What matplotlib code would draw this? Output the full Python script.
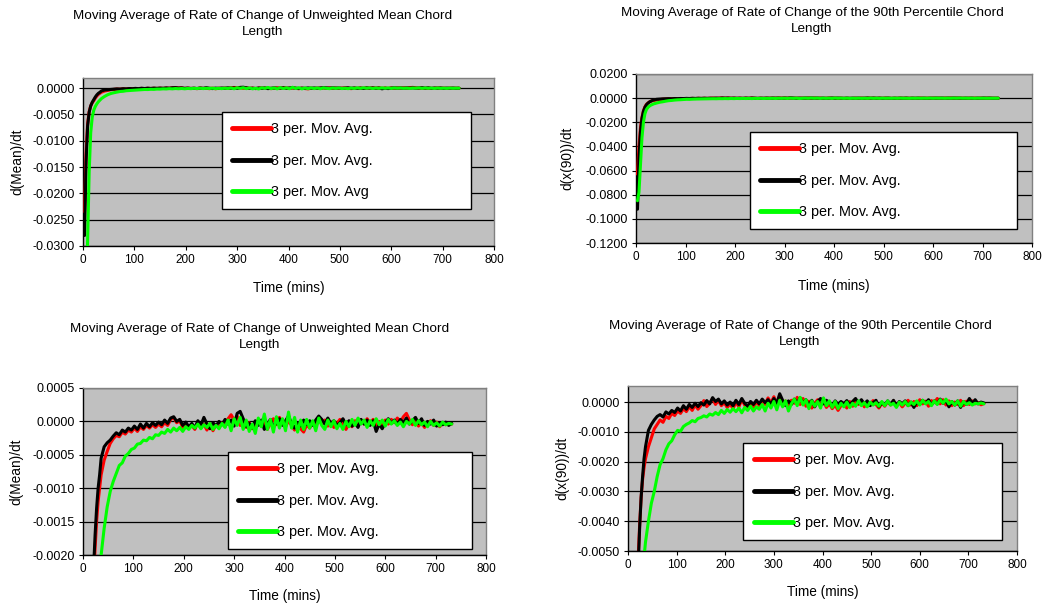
import matplotlib
matplotlib.use("Agg")
import matplotlib.pyplot as plt
import numpy as np

plt.rcParams['font.family'] = ['Liberation Sans', 'DejaVu Sans']

# ---------------- data ----------------
time_min = [
    3, 6, 9, 12, 15, 18, 21, 24, 27, 30,
    33, 36, 42, 48, 54, 60, 66, 72, 78, 84,
    90, 96, 102, 108, 114, 120, 126, 132, 138, 144,
    150, 156, 162, 168, 174, 180, 186, 192, 198, 204,
    210, 216, 222, 228, 234, 240, 246, 252, 258, 264,
    270, 276, 282, 288, 294, 300, 306, 312, 318, 324,
    330, 336, 342, 348, 354, 360, 366, 372, 378, 384,
    390, 396, 402, 408, 414, 420, 426, 432, 438, 444,
    450, 456, 462, 468, 474, 480, 486, 492, 498, 504,
    510, 516, 522, 528, 534, 540, 546, 552, 558, 564,
    570, 576, 582, 588, 594, 600, 606, 612, 618, 624,
    630, 636, 642, 648, 654, 660, 666, 672, 678, 684,
    690, 696, 702, 708, 714, 720, 726, 732,
]

mean_red = [
    -0.0235, -0.0125, -0.0068, -0.0045, -0.0034, -0.0028, -0.0024, -0.0019, -0.0015, -0.0012,
    -0.0010, -0.0008, -0.00058, -0.00045, -0.00033, -0.00026, -0.00021, -0.00023, -0.00016, -0.00019,
    -0.00013, -0.00016, -0.0001, -0.00015, -0.00008, -0.00012, -0.00006, -0.0001, -0.00005, -0.00009,
    -0.00004, -0.00008, -0.00002, -0.00006, 0.00003, 0.00006, -0.00002, 0.00001, -0.00009, -0.00003,
    -0.0001, -0.00006, -0.00012, -0.00002, -0.00009, -0.00004, -0.00013, -0.00003, -0.00014, -0.00005,
    -0.0001, -0.00002, -0.00008, 0.00004, 0.0001, 0.00002, 0.00008, -0.00006, 0.00003, -0.00009,
    -0.00002, -0.00011, -0.00004, 0.00002, -0.00007, -0.00001, -0.00012, -0.00003, 0.00004, -0.00005,
    0.00006, -0.00002, -0.00008, 0.00001, -0.00006, -0.00013, -0.00004, -0.00011, -0.00016, -0.00005,
    -0.0001, -0.00002, -0.00008, 0.00003, -0.00004, 0.00002, -0.00007, -0.00001, -0.00009, -0.00003,
    0.00003, -0.00005, -0.00012, -0.00003, -0.00008, 0.00001, -0.00006, 0.00002, -0.00004, 0.00004,
    -0.00003, 0.00003, -0.00005, 0.0, -0.00007, 0.00002, -0.00004, 0.00003, -0.00002, 0.00005,
    -0.00001, 0.00007, 0.00012, 0.00002, -0.00005, 0.00001, -0.00007, -0.00002, -0.00009, -0.00003,
    0.00001, -0.00006, -0.00001, -0.00008, -0.00002, -0.00005, -0.00003, -0.00004,
]

mean_black = [
    -0.0280, -0.0140, -0.0072, -0.0046, -0.0034, -0.0027, -0.0022, -0.0017, -0.0013, -0.0010,
    -0.0008, -0.00055, -0.00038, -0.00032, -0.00028, -0.00022, -0.00017, -0.0002, -0.00013, -0.00016,
    -0.0001, -0.00013, -0.00007, -0.00012, -0.00004, -0.0001, -0.00003, -0.00008, -0.00002, -0.00006,
    -0.00001, -0.00005, 0.00002, -0.00003, 0.00005, 0.00007, 0.0, 0.00003, -0.00006, -0.00001,
    -0.00008, -0.00003, -0.0001, 0.00001, -0.00006, 0.00006, -0.00004, -0.00011, -0.00002, -0.00007,
    0.0, -0.00005, 0.00003, -0.00004, 0.00002, -0.00007, 0.00012, 0.00015, 0.00004, -0.00008,
    -0.00003, -0.0001, 0.00001, -0.00006, 0.00002, -0.00012, -0.00004, 0.00003, -0.00008, -0.00002,
    0.00004, -0.00006, 0.00001, 0.00008, -0.00003, -0.0001, -0.00002, -0.00007, 0.00002, -0.00005,
    0.00001, -0.00006, 0.00002, 0.00008, 0.00003, -0.00004, 0.00005, -0.00003, 0.00001, -0.00006,
    -0.00002, 0.00004, -0.00005, 0.00001, -0.00007, -0.00002, -0.00009, 0.00003, -0.00004, 0.00002,
    -0.00006, 0.00001, -0.00015, -0.00004, -0.00011, -0.00002, 0.00004, -0.00003, 0.00002, -0.00005,
    0.00003, -0.00002, 0.00005, -0.00004, 0.00001, 0.00006, -0.00003, 0.00004, -0.00006, 0.0,
    -0.00004, 0.00002, -0.00007, -0.00002, -0.00005, -0.00001, -0.00006, -0.00003,
]

mean_green = [
    -0.0550, -0.0400, -0.0290, -0.0160, -0.0085, -0.0055, -0.0042, -0.0035, -0.0030, -0.0026,
    -0.0023, -0.0020, -0.0016, -0.00128, -0.00105, -0.0009, -0.00078, -0.00066, -0.00062, -0.00052,
    -0.00048, -0.00042, -0.0004, -0.00034, -0.00033, -0.00028, -0.00029, -0.00024, -0.00026, -0.0002,
    -0.00021, -0.00016, -0.00018, -0.00012, -0.00016, -0.0001, -0.00014, -0.00009, -0.00015, -0.00008,
    -0.00012, -0.00006, -0.0001, -0.00004, -0.00011, -0.00005, -0.00009, -0.00003, -0.00012, -0.00006,
    -0.00011, -0.00003, -0.00009, 0.00002, -0.00014, 0.00004, -0.00006, 0.00006, -0.00012, 0.00002,
    -0.00015, -0.00004, -0.00018, 0.00005, -0.00008, 0.00011, -0.00012, 0.00003, -0.00016, 0.00007,
    -0.0001, 0.00004, -0.00014, 0.00014, -0.0001, 0.00006, -0.00016, 0.00002, -0.00012, 0.00003,
    -0.0001, 0.00001, -0.00014, 0.00005, -0.00006, -0.00012, 0.00002, -0.00008, 0.00001, -0.00011,
    -0.00003, -0.00012, 0.0, -0.00008, 0.00003, -0.00006, 0.00005, -0.00004, 0.00002, -0.00009,
    0.00001, -0.00006, 0.00004, -0.00005, 0.00002, -0.00007, 0.00003, -0.00004, 0.00001, -0.00006,
    -0.00001, -0.00008, 0.0, -0.00004, 0.00003, -0.00006, 0.00001, -0.00005, -0.00001, -0.00008,
    0.0, -0.00006, -0.00002, -0.00007, -0.00001, -0.00005, -0.00003, -0.00004,
]

p90_red = [
    -0.063, -0.040, -0.025, -0.016, -0.0105, -0.0072, -0.0052, -0.0041, -0.0032, -0.0026,
    -0.0022, -0.0019, -0.0015, -0.0012, -0.0009, -0.00075, -0.0006, -0.00068, -0.00048, -0.00055,
    -0.00038, -0.00045, -0.0003, -0.00038, -0.00022, -0.00032, -0.00015, -0.00028, -0.0001, -0.00024,
    -0.00012, 0.00005, -0.00015, -0.00004, 0.00012, -0.00008, 0.00006, -0.00012, -0.00002, -0.00018,
    -0.00006, -0.00022, 0.0, -0.00016, 0.00008, -0.0001, -0.00025, -0.00005, -0.00018, 0.00002,
    -0.00012, 0.00005, -0.00008, 0.00014, -0.00003, 0.00018, -0.00006, 0.00012, -0.0001, 0.00004,
    -0.00015, 0.00006, -0.00004, 0.00016, -0.00008, 0.00012, -0.00014, 0.00003, -0.0002, -0.00004,
    0.00008, -0.00012, 0.00004, -0.00018, -0.00006, -0.00022, -0.0001, -0.00028, -0.00012, -0.00004,
    -0.0002, 0.00002, -0.00014, 0.00006, -0.00008, 0.00004, -0.00016, -0.00002, -0.0001, 0.00005,
    -0.00008, -0.0002, -0.00004, -0.00014, 0.00002, -0.0001, 0.00004, -0.00012, -0.00002, -0.00016,
    -0.00004, 0.00006, -0.0001, 0.00002, -0.00012, 0.00008, -0.00006, 0.00003, -0.00014, 0.00005,
    -0.00002, 0.00012, -0.00006, 0.00008, -0.0001, 0.00004, -0.00012, 0.0, -0.00008, 0.00006,
    -0.00012, 0.00003, -0.00008, 0.00004, -0.00006, -0.00002, -0.00009, -0.00005,
]

p90_black = [
    -0.092, -0.050, -0.028, -0.017, -0.011, -0.0076, -0.0055, -0.0042, -0.0032, -0.0025,
    -0.0019, -0.0015, -0.00095, -0.00075, -0.0006, -0.00048, -0.00042, -0.0005, -0.00033, -0.0004,
    -0.00028, -0.00035, -0.0002, -0.0003, -0.00012, -0.00024, -0.00008, -0.00018, -0.00004, -0.00015,
    -0.00002, -0.0001, 0.00005, -0.00006, 0.00015, 0.00002, 0.0001, -0.00006, 0.00004, -0.0001,
    0.0, -0.00012, 0.00006, -0.00008, 0.00012, -0.00004, -0.00014, 0.00002, -0.00008, 0.00006,
    -0.00006, 0.0001, -0.00002, 0.00008, -0.00008, 0.00012, -0.00004, 0.00028, 0.00006, -0.00012,
    0.00004, -0.00008, 0.0001, -0.00004, 0.00014, -0.00006, 0.00008, -0.00012, 0.00006, -0.00016,
    0.00002, 0.00012, -0.00006, 0.00006, -0.00002, -0.00012, 0.00004, -0.00008, 0.00002, -0.00006,
    0.00005, -0.0001, 0.00002, 0.00012, -0.00004, 0.00008, -0.00006, 0.00004, -0.00012, -0.00002,
    0.00006, -0.00016, -0.00002, -0.0001, 0.00004, -0.00008, 0.00006, -0.00014, 0.00002, -0.00006,
    0.00004, -0.00012, 0.0, -0.00018, 0.00002, -0.00008, 0.00006, -0.00004, 0.00008, -0.0001,
    0.00004, -0.00006, 0.0001, -0.00004, 0.00006, -0.00016, 0.00002, -0.0001, 0.00004, -0.00018,
    0.00002, -0.00008, 0.00012, -0.00004, 0.00008, -0.00006, 0.0, -0.00003,
]

p90_green = [
    -0.085, -0.078, -0.055, -0.033, -0.020, -0.013, -0.0095, -0.0078, -0.0066, -0.0058,
    -0.0052, -0.0047, -0.0040, -0.0034, -0.0030, -0.0025, -0.0021, -0.0019, -0.0016, -0.0014,
    -0.0013, -0.0011, -0.00095, -0.00098, -0.00082, -0.00075, -0.0007, -0.00062, -0.00066, -0.00055,
    -0.00052, -0.00046, -0.0005, -0.0004, -0.00044, -0.00035, -0.00042, -0.00028, -0.00038, -0.00025,
    -0.00034, -0.00022, -0.00032, -0.0002, -0.00036, -0.00018, -0.00028, -0.00014, -0.0003, -0.00016,
    -0.00024, -0.00008, -0.0003, -0.00004, -0.0002, 0.00002, -0.00026, 0.00006, -0.00016, 0.00004,
    -0.0003, -0.00006, 0.0001, -0.00012, 0.00016, -0.0001, 0.00008, -0.00022, 0.00004, -0.00014,
    0.00002, -0.0002, 0.00014, -0.00012, 0.00004, -0.00018, 0.00002, -0.00022, -0.00004, -0.00016,
    0.0, -0.00018, -0.00004, -0.00014, 0.00004, -0.00012, -0.00002, -0.00016, 0.0, -0.0001,
    -0.00002, -0.00014, 0.00002, -0.00012, 0.00004, -0.0001, -0.00004, -0.00018, 0.0, -0.0001,
    0.00002, -0.00012, 0.0, -0.00008, 0.00004, -0.0001, 0.00006, -0.00006, 0.00002, -0.00012,
    0.00004, -0.00008, 0.00008, -0.00004, 0.0001, -0.00006, 0.00002, -0.0001, 0.00004, -0.00014,
    0.00002, -0.00008, -0.00002, -0.0001, -0.00004, -0.00006, -0.00003, -0.00006,
]

title_mean = "Moving Average of Rate of Change of Unweighted Mean Chord\nLength"
title_p90 = "Moving Average of Rate of Change of the 90th Percentile Chord\nLength"
xlabel_text = "Time (mins)"
ylabel_mean = "d(Mean)/dt"
ylabel_p90 = "d(x(90))/dt"
legend_labels_a = ["3 per. Mov. Avg.", "3 per. Mov. Avg.", "3 per. Mov. Avg"]
legend_labels_b = ["3 per. Mov. Avg.", "3 per. Mov. Avg.", "3 per. Mov. Avg."]
x_ticks = [0, 100, 200, 300, 400, 500, 600, 700, 800]
y_ticks_tl = [0.0, -0.005, -0.010, -0.015, -0.020, -0.025, -0.030]
y_ticks_tr = [0.02, 0.0, -0.02, -0.04, -0.06, -0.08, -0.10, -0.12]
y_ticks_bl = [0.0005, 0.0, -0.0005, -0.0010, -0.0015, -0.0020]
y_ticks_br = [0.0, -0.001, -0.002, -0.003, -0.004, -0.005]

# ---------------- figure ----------------
W, H = 1045, 605
fig = plt.figure(figsize=(W / 100, H / 100), dpi=100)
fig.patch.set_facecolor("white")

colors = ["#FF0000", "#000000", "#00FF00"]


def px_axes(x0, y0, x1, y1):
    return fig.add_axes([x0 / W, 1 - y1 / H, (x1 - x0) / W, (y1 - y0) / H])


panels = [
    dict(box=(83, 78, 494, 246), series=(mean_red, mean_black, mean_green),
         ylim=(-0.030, 0.0019), yticks=y_ticks_tl, title=title_mean, tpos=(263, 24),
         ylabel=ylabel_mean, ylx=17, xly=288, labels=legend_labels_a,
         leg=(0.338, 0.202, 0.606, 0.596)),
    dict(box=(636, 74, 1032, 243), series=(p90_red, p90_black, p90_green),
         ylim=(-0.12, 0.02), yticks=y_ticks_tr, title=title_p90, tpos=(812, 21),
         ylabel=ylabel_p90, ylx=567, xly=286, labels=legend_labels_b,
         leg=(0.288, 0.065, 0.674, 0.592)),
    dict(box=(83, 388, 486, 555), series=(mean_red, mean_black, mean_green),
         ylim=(-0.0020, 0.0005), yticks=y_ticks_bl, title=title_mean, tpos=(260, 337),
         ylabel=ylabel_mean, ylx=16, xly=596, labels=legend_labels_b,
         leg=(0.360, 0.042, 0.605, 0.575)),
    dict(box=(628, 386, 1017, 551), series=(p90_red, p90_black, p90_green),
         ylim=(-0.005, 0.00054), yticks=y_ticks_br, title=title_p90, tpos=(800, 334),
         ylabel=ylabel_p90, ylx=562, xly=592, labels=legend_labels_b,
         leg=(0.296, 0.067, 0.665, 0.588)),
]

for p in panels:
    x0, y0, x1, y1 = p["box"]
    ax = px_axes(x0, y0, x1, y1)
    ax.set_facecolor("#C0C0C0")
    lines = []
    for vals, c in zip(p["series"], colors):
        ln, = ax.plot(time_min, vals, color=c, lw=2.2, solid_joinstyle="round",
                      solid_capstyle="round", zorder=3)
        lines.append(ln)
    ax.set_xlim(0, 800)
    ax.set_ylim(*p["ylim"])
    ax.set_xticks(x_ticks)
    ax.set_yticks(p["yticks"])
    ax.set_xticklabels([str(v) for v in x_ticks])
    ax.set_yticklabels([f"{v:.4f}" for v in p["yticks"]])
    ax.tick_params(axis="both", direction="out", length=3, width=0.8,
                   color="black", pad=3)
    ax.tick_params(axis="x", labelsize=8.5)
    ax.tick_params(axis="y", labelsize=9)
    ax.grid(True, axis="y", color="black", lw=0.9, zorder=1)
    ax.set_axisbelow(True)
    for s in ("top", "right"):
        ax.spines[s].set_color("#808080")
        ax.spines[s].set_linewidth(1.0)
    for s in ("left", "bottom"):
        ax.spines[s].set_color("black")
        ax.spines[s].set_linewidth(1.0)
    ax.set_xlabel(xlabel_text, fontsize=9.8, va="center")
    ax.xaxis.set_label_coords(0.5, (y1 - p["xly"]) / (y1 - y0))
    ax.set_ylabel(p["ylabel"], fontsize=9.8, va="center")
    ax.yaxis.set_label_coords((p["ylx"] - x0) / (x1 - x0), 0.5)

    leg = ax.legend(lines, p["labels"], loc="upper left", bbox_to_anchor=p["leg"],
                    mode="expand", borderaxespad=0, fontsize=10.4, handlelength=2.7,
                    handletextpad=0.0, labelspacing=1.2, borderpad=0.72,
                    fancybox=False, framealpha=1, edgecolor="black", facecolor="white")
    leg.get_frame().set_linewidth(1.0)
    for h in leg.get_lines():
        h.set_linewidth(3.5)

    tx, ty = p["tpos"]
    fig.text(tx / W, 1 - ty / H, p["title"], ha="center", va="center", fontsize=9.7,
             linespacing=1.4)

fig.savefig("out.png", dpi=100, facecolor="white")
